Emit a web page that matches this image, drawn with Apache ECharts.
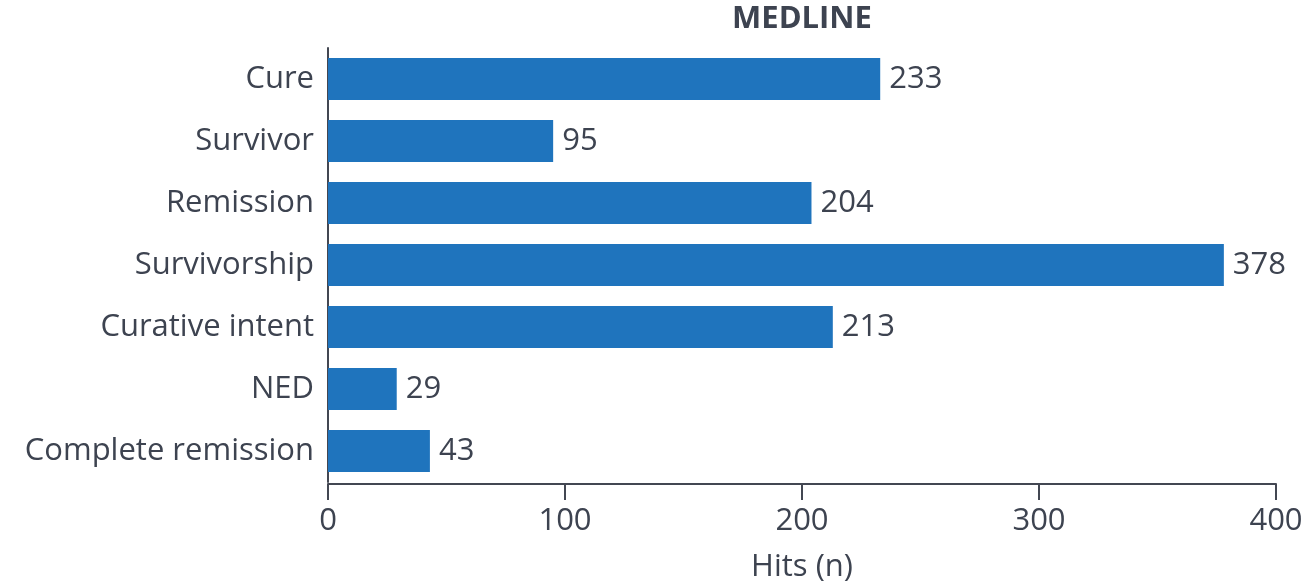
<!DOCTYPE html>
<html><head><meta charset="utf-8">
<script src="https://cdn.jsdelivr.net/npm/echarts@6/dist/echarts.min.js"></script>
<style>html,body{margin:0;padding:0;background:#fff}#c{width:1304px;height:585px}</style>
</head><body><div id="c"></div>
<script>
const categories = ["Cure","Survivor","Remission","Survivorship","Curative intent","NED","Complete remission"];
const hits = [233, 95, 204, 378, 213, 29, 43];
const xTicks = [0, 100, 200, 300, 400];
const titleText = "MEDLINE";
const xName = "Hits (n)";

const txt = '#3d4350';
const font = '"Open Sans", sans-serif';
const fs = 31;
const chart = echarts.init(document.getElementById('c'), null, {renderer:'canvas'});
chart.setOption({
  animation:false,
  title:{text:titleText, left:802, top:4, textAlign:'center', padding:0,
    textStyle:{fontFamily:font, fontWeight:'bold', fontSize:fs, color:txt}},
  grid:{left:328, top:48, width:948, height:434, containLabel:false, outerBoundsMode:'none'},
  xAxis:{type:'value', min:xTicks[0], max:xTicks[xTicks.length-1], interval:100, offset:2,
    name:xName, nameLocation:'middle', nameGap:68,
    nameTextStyle:{fontFamily:font, fontSize:fs, color:txt},
    axisLine:{show:true, lineStyle:{color:'#434752', width:2}},
    axisTick:{show:true, length:16, lineStyle:{color:'#434752', width:2}},
    axisLabel:{fontFamily:font, fontSize:fs, color:txt, margin:22},
    splitLine:{show:false}},
  yAxis:{type:'category', data:categories, inverse:true,
    axisLine:{show:true, lineStyle:{color:'#434752', width:2}},
    axisTick:{show:false},
    axisLabel:{fontFamily:font, fontSize:fs, color:txt, margin:14}},
  series:[{type:'bar', data:hits, barCategoryGap:'32%',
    itemStyle:{color:'#1f74bd'},
    label:{show:true, position:'right', distance:9, fontFamily:font, fontSize:fs, color:txt}}]
});
</script></body></html>
